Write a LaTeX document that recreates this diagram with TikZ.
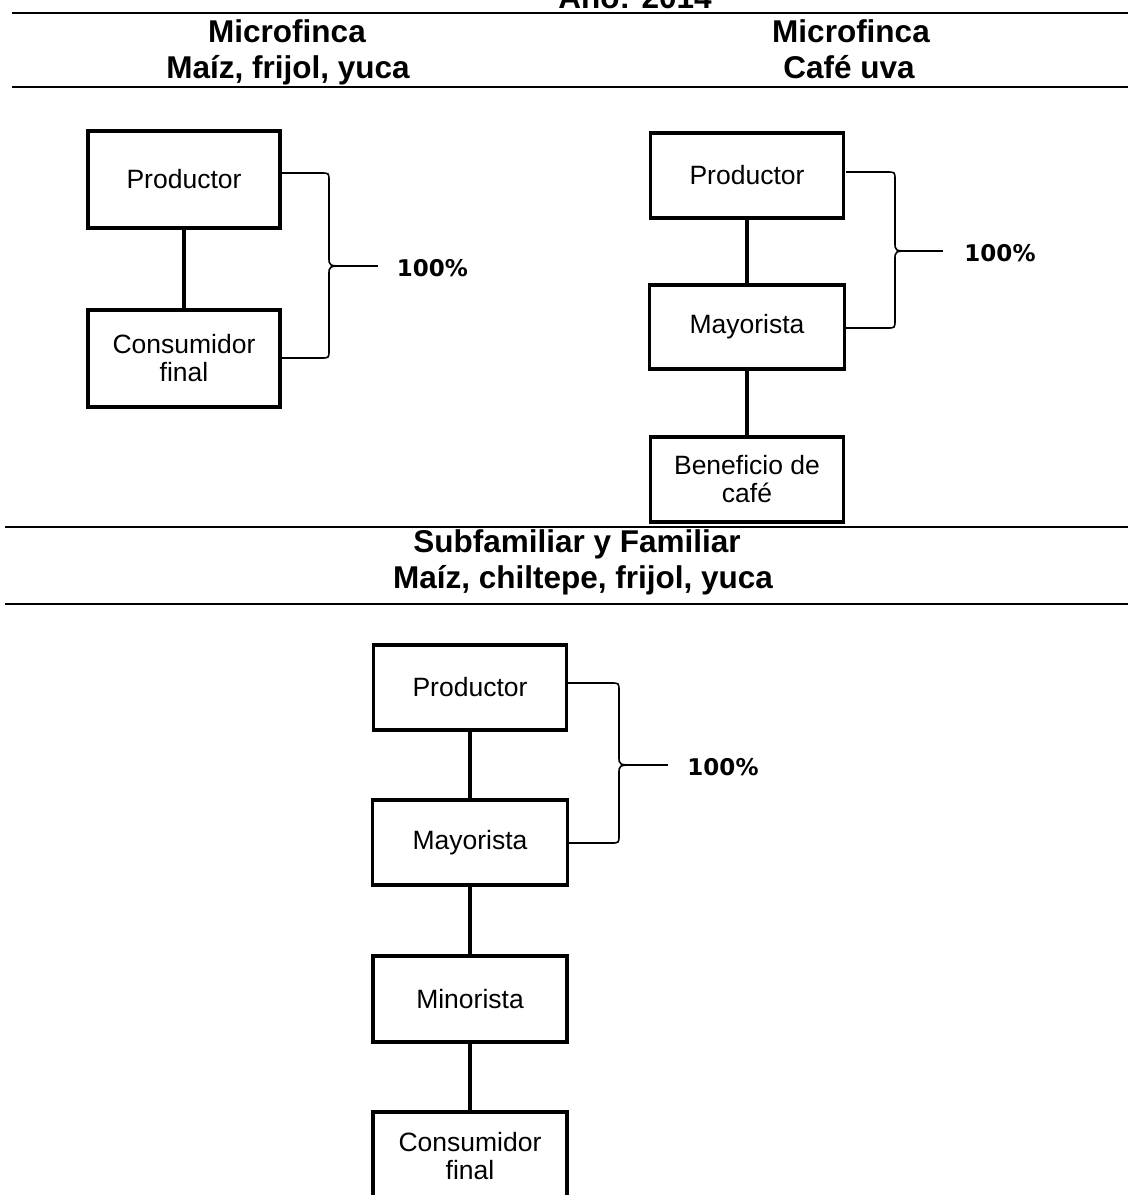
\documentclass[tikz,border=0pt]{standalone}
\usepackage{fontspec}
\setmainfont{Liberation Sans}
\newfontfamily\pctfont{DejaVu Sans}
\usetikzlibrary{calc}
\tikzset{
  box/.style={draw, line width=3.4pt, inner sep=0pt, align=center,
    font=\fontsize{26.5}{28}\selectfont},
  conn/.style={line width=3.4pt},
  rule/.style={line width=1.8pt},
  head/.style={anchor=base, inner sep=0pt, font=\fontsize{31.5}{36}\selectfont\bfseries},
  bracepath/.style={line width=1.6pt},
  pct/.style={inner sep=0pt, font=\fontsize{23}{25}\selectfont\pctfont\bfseries}
}
\newcommand\drawbrace[8]{%
  % #1 xs, #2 yt, #3 yb, #4 xv, #5 ym, #6 xt, #7 xe, #8 name
  \coordinate (#8tip) at (#6,#5);
  \coordinate (#8end) at (#7,#5);
  \draw[bracepath] (#1,#2) -- ({#4-8},#2) .. controls (#4,#2) .. (#4,{#2+8})
    -- (#4,{#5-9}) .. controls (#4,#5) .. (#8tip)
    .. controls (#4,#5) .. (#4,{#5+9}) -- (#4,{#3-8})
    .. controls (#4,#3) .. ({#4-8},#3) -- (#1,#3);
  \draw[bracepath] (#8tip) -- (#8end);
}
\begin{document}
\begin{tikzpicture}[x=1pt,y=-1pt]
\useasboundingbox (0,0) rectangle (1128,1195);
\fill[white] (0,0) rectangle (1128,1195);

% header rules
\draw[rule] (12,13) -- (1128,13);
\draw[rule] (12,87) -- (1128,87);
\draw[rule] (5,527) -- (1128,527);
\draw[rule] (5,604) -- (1128,604);

% headers
\node[head] (ano) at (635,8) {Año: 2014};
\node[head] (h1a) at (287,42) {Microfinca};
\node[head] (h1b) at (288,78) {Maíz, frijol, yuca};
\node[head] (h2a) at (851,42) {Microfinca};
\node[head] (h2b) at (849,78) {Café uva};
\node[head] (h3a) at (577,552) {Subfamiliar y Familiar};
\node[head] (h3b) at (583,588) {Maíz, chiltepe, frijol, yuca};

% left chain
\node[box, minimum width=192pt, minimum height=97pt] (lp) at (184,179.5) {Productor};
\node[box, minimum width=192pt, minimum height=97pt] (lc) at (184,358.5) {Consumidor\\final};
\draw[conn] (lp) -- (lc);
\drawbrace{282}{173}{358}{329}{266}{345}{378}{lb}
\node[pct] (lpct) at (432.5,268.5) {100\%};

% right chain
\node[box, minimum width=193pt, minimum height=85pt] (rp) at (747,175.5) {Productor};
\node[box, minimum width=195pt, minimum height=84pt] (rm) at (747,327) {Mayorista};
\node[box, minimum width=193pt, minimum height=85pt] (rb) at (747,479.5) {Beneficio de\\café};
\draw[conn] (rp) -- (rm);
\draw[conn] (rm) -- (rb);
\drawbrace{846}{172}{328}{895}{251}{910}{943}{rbr}
\node[pct] (rpct) at (1000,253) {100\%};

% bottom chain
\node[box, minimum width=193pt, minimum height=85pt] (bp) at (470,687.5) {Productor};
\node[box, minimum width=195pt, minimum height=85pt] (bm) at (470,842.5) {Mayorista};
\node[box, minimum width=194pt, minimum height=86pt] (bn) at (470,999) {Minorista};
\node[box, minimum width=194pt, minimum height=88pt] (bc) at (470,1156) {Consumidor\\final};
\draw[conn] (bp) -- (bm);
\draw[conn] (bm) -- (bn);
\draw[conn] (bn) -- (bc);
\drawbrace{568}{683}{843}{619}{765}{635}{668}{bbr}
\node[pct] (bpct) at (723,767) {100\%};
\end{tikzpicture}
\end{document}
